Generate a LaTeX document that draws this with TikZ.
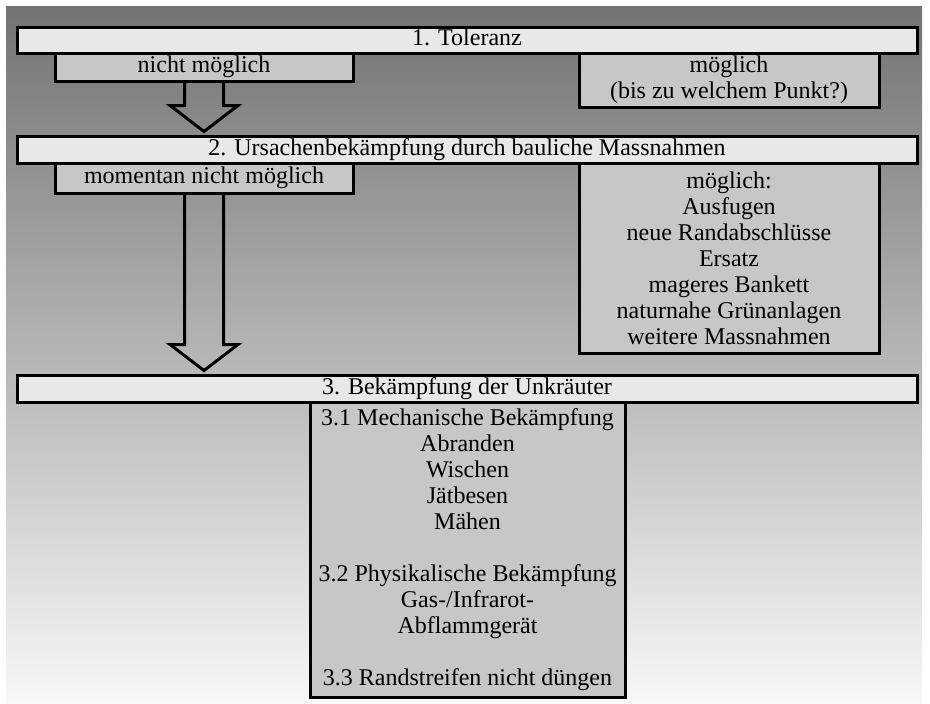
\documentclass[tikz,border=0pt]{standalone}
\usepackage{fontspec}
\setmainfont{Liberation Serif}
\usetikzlibrary{calc}
\tikzset{
  lbl/.style={font=\fontsize{12}{13}\selectfont, text=black},
  oneline/.style={text height=8pt, text depth=2.5pt},
  titlebox/.style={lbl, oneline, draw=black, line width=1.5pt, fill=black!9, inner sep=0pt, minimum width=450pt},
  subbox/.style={lbl, draw=black, line width=1.5pt, fill=black!22, inner sep=0pt, align=center},
  blockarrow/.style={draw=black, line width=1.5pt, line join=miter},
}
\begin{document}
\begin{tikzpicture}[x=0.5pt,y=-0.5pt]
\useasboundingbox (0,0) rectangle (930,703);
\fill[white] (0,0) rectangle (930,703);
\shade[top color=black!55, middle color=black!32, bottom color=black!3] (6,6) rectangle (922,703);

% level 1
\node[titlebox, minimum height=13pt] (t1) at (467,40) {1. Toleranz};
\node[subbox, oneline, minimum width=149pt, minimum height=14pt] (nm1) at (204,67) {nicht möglich};
\node[subbox, minimum width=150pt, minimum height=27pt] (m1) at (729,80) {möglich\\(bis zu welchem Punkt?)};

% level 2
\node[titlebox, minimum height=13.5pt] (t2) at (467,149.5) {2. Ursachenbekämpfung durch bauliche Massnahmen};
\node[subbox, oneline, minimum width=149pt, minimum height=15pt] (nm2) at (204,178) {momentan nicht möglich};
\node[subbox, minimum width=150pt, minimum height=95pt] (m2) at (729,258) {möglich:\\Ausfugen\\neue Randabschlüsse\\Ersatz\\mageres Bankett\\naturnahe Grünanlagen\\weitere Massnahmen};

% level 3
\node[titlebox, minimum height=13.5pt] (t3) at (467,388.5) {3. Bekämpfung der Unkräuter};
\node[subbox, minimum width=157.5pt, minimum height=147.5pt] (b3) at (467.5,549.5) {3.1 Mechanische Bekämpfung\\Abranden\\Wischen\\Jätbesen\\Mähen\\[13pt]3.2 Physikalische Bekämpfung\\Gas-/Infrarot-\\Abflammgerät\\[13pt]3.3 Randstreifen nicht düngen};

% block arrows
\draw[blockarrow] let \p1=(nm1.south), \p2=(t2.north) in
  (\x1-9.75pt,\y1) -- (\x1-9.75pt,\y2+14.5pt) -- (\x1-17pt,\y2+14.5pt) -- (\x1,\y2+1.5pt)
  -- (\x1+17pt,\y2+14.5pt) -- (\x1+9.75pt,\y2+14.5pt) -- (\x1+9.75pt,\y1);
\draw[blockarrow] let \p1=(nm2.south), \p2=(t3.north) in
  (\x1-9.75pt,\y1) -- (\x1-9.75pt,\y2+14.5pt) -- (\x1-17pt,\y2+14.5pt) -- (\x1,\y2+1.5pt)
  -- (\x1+17pt,\y2+14.5pt) -- (\x1+9.75pt,\y2+14.5pt) -- (\x1+9.75pt,\y1);
\end{tikzpicture}
\end{document}
